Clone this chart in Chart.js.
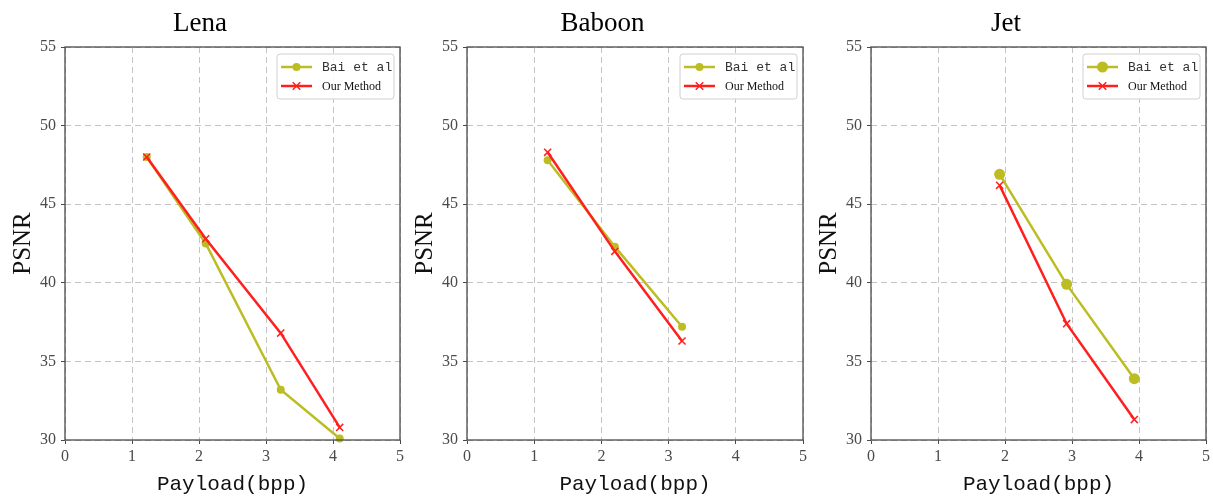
<!DOCTYPE html>
<html>
<head>
<meta charset="utf-8">
<script src="https://cdn.jsdelivr.net/npm/chart.js@4/dist/chart.umd.min.js"></script>
<style>
  html, body { margin: 0; padding: 0; background: #fff; }
  body { width: 1213px; height: 497px; position: relative; overflow: hidden; }
  .panel { position: absolute; top: 0; height: 497px; }
</style>
</head>
<body>
<div class="panel" style="left:0px;width:410px"><canvas id="c1"></canvas></div>
<div class="panel" style="left:402px;width:410px"><canvas id="c2"></canvas></div>
<div class="panel" style="left:806px;width:407px"><canvas id="c3"></canvas></div>
<script>
// ---- data ----
const titles = ['Lena', 'Baboon', 'Jet'];
const seriesNames = ['Bai et al', 'Our Method'];
const xTicks = [0, 1, 2, 3, 4, 5];
const yTicks = [30, 35, 40, 45, 50, 55];

const lenaX = [1.22, 2.1, 3.22, 4.1];
const lenaBai = [48.0, 42.5, 33.2, 30.1];
const lenaOurs = [48.0, 42.8, 36.8, 30.8];

const baboonX = [1.2, 2.2, 3.2];
const baboonBai = [47.8, 42.3, 37.2];
const baboonOurs = [48.3, 42.0, 36.3];

const jetX = [1.92, 2.92, 3.93];
const jetBai = [46.9, 39.9, 33.9];
const jetOurs = [46.2, 37.4, 31.3];

// ---- styling ----
const OLIVE = '#bcbd22';
const RED = '#ff1f1f';
const TICK_FONT = { family: 'Liberation Serif', size: 16 };
const TICK_COLOR = '#4a4a4a';

function pts(xs, ys) { return xs.map((x, i) => ({ x: x, y: ys[i] })); }

const frameAndLegend = {
  id: 'frameAndLegend',
  afterDraw(chart, args, opts) {
    const ctx = chart.ctx;
    const a = chart.chartArea;
    ctx.save();
    ctx.strokeStyle = '#4a4a4a';
    ctx.lineWidth = 1.3;
    ctx.setLineDash([]);
    ctx.strokeRect(a.left, a.top, a.right - a.left, a.bottom - a.top);

    // legend box
    const bx = a.right - 123, by = a.top + 7, bw = 117, bh = 45;
    ctx.fillStyle = 'rgba(255,255,255,0.85)';
    ctx.strokeStyle = '#d0d0d0';
    ctx.lineWidth = 1;
    ctx.beginPath();
    ctx.roundRect(bx, by, bw, bh, 3);
    ctx.fill();
    ctx.stroke();

    const ds = chart.data.datasets;
    const rows = [a.top + 20, a.top + 39];
    const order = [1, 0];
    order.forEach((di, r) => {
      const d = ds[di];
      const y = rows[r];
      const x1 = a.right - 119, x2 = a.right - 88;
      ctx.strokeStyle = d.borderColor;
      ctx.lineWidth = 2.5;
      ctx.beginPath(); ctx.moveTo(x1, y); ctx.lineTo(x2, y); ctx.stroke();
      const xm = (x1 + x2) / 2;
      if (d.pointStyle === 'circle') {
        ctx.fillStyle = d.pointBackgroundColor;
        ctx.beginPath(); ctx.arc(xm, y, d.pointRadius, 0, Math.PI * 2); ctx.fill();
      } else {
        const s = d.pointRadius * 0.75;
        ctx.lineWidth = 1.5;
        ctx.strokeStyle = d.pointBorderColor;
        ctx.beginPath();
        ctx.moveTo(xm - s, y - s); ctx.lineTo(xm + s, y + s);
        ctx.moveTo(xm - s, y + s); ctx.lineTo(xm + s, y - s);
        ctx.stroke();
      }
      ctx.textBaseline = 'middle';
      ctx.textAlign = 'left';
      if (r === 0) {
        ctx.font = '13px "Liberation Mono"';
        ctx.fillStyle = '#333';
      } else {
        ctx.font = '12px "Liberation Serif"';
        ctx.fillStyle = '#111';
      }
      ctx.fillText(d.label, a.right - 78, y + 1);
    });
    ctx.restore();
  }
};

function makeChart(id, title, xs, bai, ours, rightPad, circleR) {
  const gridOpts = {
    color: '#c4c4c4', lineWidth: 1,
    drawTicks: true, tickLength: 4, tickColor: '#4a4a4a', tickBorderDash: [], tickWidth: 1
  };
  const borderOpts = { display: false, dash: [6, 4] };
  return new Chart(document.getElementById(id), {
    type: 'scatter',
    data: {
      datasets: [
        {
          label: seriesNames[1],
          data: pts(xs, ours),
          showLine: true,
          borderColor: RED,
          borderWidth: 2.5,
          pointStyle: 'crossRot',
          pointRadius: 5,
          pointBorderColor: RED,
          pointBackgroundColor: RED,
          pointBorderWidth: 1.5,
          clip: false,
          order: 0
        },
        {
          label: seriesNames[0],
          data: pts(xs, bai),
          showLine: true,
          borderColor: OLIVE,
          borderWidth: 2.5,
          pointStyle: 'circle',
          pointRadius: circleR,
          pointBorderWidth: 0,
          pointBorderColor: OLIVE,
          pointBackgroundColor: OLIVE,
          clip: false,
          order: 1
        }
      ]
    },
    options: {
      responsive: true,
      maintainAspectRatio: false,
      animation: false,
      devicePixelRatio: 1,
      layout: { padding: { left: 0, right: rightPad, top: 0, bottom: 0 } },
      plugins: {
        legend: { display: false },
        tooltip: { enabled: false },
        title: {
          display: true,
          text: title,
          color: '#000',
          font: { family: 'Liberation Serif', size: 27, weight: 'normal', lineHeight: 1 },
          padding: { top: 10, bottom: 10 }
        },
        frameAndLegend: {}
      },
      scales: {
        x: {
          type: 'linear',
          min: 0, max: 5,
          afterBuildTicks: s => { s.ticks = xTicks.map(v => ({ value: v })); },
          afterFit: s => { s.height = 57; },
          grid: gridOpts,
          border: borderOpts,
          ticks: { color: TICK_COLOR, font: TICK_FONT, padding: 3, maxRotation: 0 },
          title: {
            display: true, text: 'Payload(bpp)', color: '#111',
            font: { family: 'Liberation Mono', size: 21 },
            padding: { top: 2, bottom: 0 }
          }
        },
        y: {
          type: 'linear',
          min: 30, max: 55,
          afterBuildTicks: s => { s.ticks = yTicks.map(v => ({ value: v })); },
          afterFit: s => { s.width = 65; },
          grid: gridOpts,
          border: borderOpts,
          ticks: { color: TICK_COLOR, font: TICK_FONT, padding: 5 },
          title: {
            display: true, text: 'PSNR', color: '#111',
            font: { family: 'Liberation Serif', size: 25 },
            padding: { top: 8, bottom: 0 }
          }
        }
      }
    },
    plugins: [frameAndLegend]
  });
}

makeChart('c1', titles[0], lenaX, lenaBai, lenaOurs, 10, 4);
makeChart('c2', titles[1], baboonX, baboonBai, baboonOurs, 9, 4);
makeChart('c3', titles[2], jetX, jetBai, jetOurs, 7, 5.5);
</script>
</body>
</html>
